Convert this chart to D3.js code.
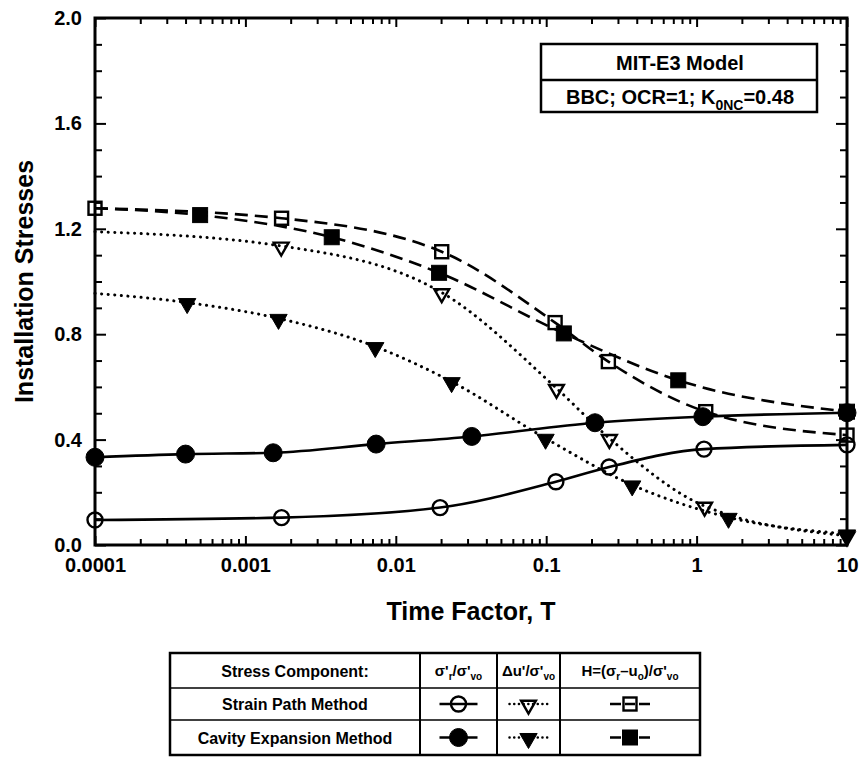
<!DOCTYPE html>
<html>
<head>
<meta charset="utf-8">
<script src="https://cdn.jsdelivr.net/npm/d3@7"></script>
<style>
  body { margin: 0; background: #fff; }
  svg { display: block; font-family: "Liberation Sans", Arial, sans-serif; font-weight: bold; }
</style>
</head>
<body>
<div id="chart"></div>
<script>
// time factor values and stresses
var spCircleT = [0.0001, 0.00174, 0.0197, 0.116, 0.262, 1.12, 10];
var spCircleV = [0.095, 0.104, 0.142, 0.24, 0.296, 0.364, 0.38];

var ceCircleT = [0.0001, 0.0004, 0.00153, 0.0074, 0.032, 0.211, 1.10, 10];
var ceCircleV = [0.333, 0.345, 0.35, 0.383, 0.412, 0.464, 0.487, 0.502];

var spTriT = [0.0001, 0.00173, 0.0202, 0.117, 0.263, 1.13, 10];
var spTriV = [1.189, 1.135, 0.958, 0.595, 0.405, 0.148, 0.035];

var ceTriT = [0.0001, 0.00041, 0.00166, 0.0073, 0.0235, 0.099, 0.373, 1.63, 10];
var ceTriV = [0.955, 0.92, 0.86, 0.753, 0.62, 0.405, 0.228, 0.105, 0.042];

var spSquareT = [0.0001, 0.00174, 0.0202, 0.1146, 0.259, 1.15, 10];
var spSquareV = [1.278, 1.24, 1.113, 0.844, 0.696, 0.506, 0.417];

var ceSquareT = [0.0001, 0.0005, 0.00375, 0.0194, 0.131, 0.755, 10];
var ceSquareV = [1.278, 1.252, 1.168, 1.033, 0.803, 0.625, 0.506];

var xMajor = [0.0001, 0.001, 0.01, 0.1, 1, 10];
var xLabels = ['0.0001', '0.001', '0.01', '0.1', '1', '10'];
var yMajor = [0, 0.4, 0.8, 1.2, 1.6, 2.0];
var yMinor = [0.1, 0.2, 0.3, 0.5, 0.6, 0.7, 0.9, 1.0, 1.1, 1.3, 1.4, 1.5, 1.7, 1.8, 1.9];

var tableRows = ['Strain Path Method', 'Cavity Expansion Method'];

var margin = { left: 95, top: 18 };
var width = 752, height = 527;

var x = d3.scaleLog()
    .domain([0.0001, 10])
    .range([0, width]);

var y = d3.scaleLinear()
    .domain([0, 2])
    .range([height, 0]);

var xMinor = [];
xMajor.slice(0, -1).forEach(function (d) {
    for (var k = 2; k <= 9; k++) xMinor.push(d * k);
});

var root = d3.select('#chart')
    .append('svg')
    .attr('width', 861)
    .attr('height', 760);

var svg = root.append('g')
    .attr('transform', 'translate(' + margin.left + ',' + margin.top + ')');

// axes with inward ticks
function clean(g) { g.select('.domain').remove(); g.selectAll('line').attr('stroke', '#000').attr('stroke-width', 2); }

svg.append('g')
    .attr('transform', 'translate(0,' + height + ')')
    .call(d3.axisBottom(x).tickValues(xMajor).tickSize(-9).tickPadding(13)
        .tickFormat(function (d, i) { return xLabels[i]; }))
    .call(clean)
    .selectAll('text').attr('font-size', 20).attr('fill', '#000');

svg.append('g')
    .attr('transform', 'translate(0,' + height + ')')
    .call(d3.axisBottom(x).tickValues(xMinor).tickSize(-6).tickFormat(''))
    .call(clean);

svg.append('g')
    .call(d3.axisTop(x).tickValues(xMajor).tickSize(-9).tickFormat(''))
    .call(clean);

svg.append('g')
    .call(d3.axisTop(x).tickValues(xMinor).tickSize(-6).tickFormat(''))
    .call(clean);

svg.append('g')
    .call(d3.axisLeft(y).tickValues(yMajor).tickSize(-11).tickPadding(13).tickFormat(d3.format('.1f')))
    .call(clean)
    .selectAll('text').attr('font-size', 20).attr('fill', '#000');

svg.append('g')
    .call(d3.axisLeft(y).tickValues(yMinor).tickSize(-7).tickFormat(''))
    .call(clean);

svg.append('g')
    .attr('transform', 'translate(' + width + ',0)')
    .call(d3.axisRight(y).tickValues(yMajor).tickSize(-11).tickFormat(''))
    .call(clean);

svg.append('g')
    .attr('transform', 'translate(' + width + ',0)')
    .call(d3.axisRight(y).tickValues(yMinor).tickSize(-7).tickFormat(''))
    .call(clean);

// frame
svg.append('rect')
    .attr('width', width)
    .attr('height', height)
    .attr('fill', 'none')
    .attr('stroke', '#000')
    .attr('stroke-width', 3);

// axis titles
svg.append('text')
    .attr('x', width / 2)
    .attr('y', height + 75)
    .attr('text-anchor', 'middle')
    .attr('font-size', 25)
    .text('Time Factor, T');

svg.append('text')
    .attr('transform', 'translate(' + (33 - margin.left) + ',' + (height / 2) + ') rotate(-90)')
    .attr('text-anchor', 'middle')
    .attr('font-size', 25)
    .text('Installation Stresses');

// series
var styles = {
    solid: null,
    dashed: '13 7',
    dotted: '0.1 6.5'
};

var series = [
    { t: spSquareT, v: spSquareV, line: 'dashed', shape: 'square', fill: false, first: true },
    { t: ceSquareT, v: ceSquareV, line: 'dashed', shape: 'square', fill: true, first: false },
    { t: spTriT, v: spTriV, line: 'dotted', shape: 'triangle', fill: false, first: false },
    { t: ceTriT, v: ceTriV, line: 'dotted', shape: 'triangle', fill: true, first: false },
    { t: spCircleT, v: spCircleV, line: 'solid', shape: 'circle', fill: false, first: true },
    { t: ceCircleT, v: ceCircleV, line: 'solid', shape: 'circle', fill: true, first: true }
];

var line = d3.line()
    .x(function (d) { return x(d[0]); })
    .y(function (d) { return y(d[1]); })
    .curve(d3.curveMonotoneX);

function drawLine(g, pts, kind) {
    g.append('path')
        .attr('d', line(pts))
        .attr('fill', 'none')
        .attr('stroke', '#000')
        .attr('stroke-width', kind === 'dotted' ? 3 : 2.6)
        .attr('stroke-linecap', kind === 'dotted' ? 'round' : 'butt')
        .attr('stroke-dasharray', styles[kind]);
}

// open symbols are hollow, the curve shows through them
function drawMarker(g, cx, cy, shape, fill) {
    if (shape === 'circle') {
        g.append('circle')
            .attr('cx', cx).attr('cy', cy)
            .attr('r', fill ? 9 : 7.5)
            .attr('fill', fill ? '#000' : 'none')
            .attr('stroke', '#000')
            .attr('stroke-width', fill ? 1 : 2.4);
    } else if (shape === 'square') {
        var s = fill ? 15 : 13;
        g.append('rect')
            .attr('x', cx - s / 2).attr('y', cy - s / 2)
            .attr('width', s).attr('height', s)
            .attr('fill', fill ? '#000' : 'none')
            .attr('stroke', '#000')
            .attr('stroke-width', fill ? 1 : 2.4);
    } else {
        g.append('path')
            .attr('d', d3.symbol(d3.symbolTriangle, fill ? 130 : 95)())
            .attr('transform', 'translate(' + cx + ',' + (cy + 1) + ') rotate(180)')
            .attr('fill', fill ? '#000' : 'none')
            .attr('stroke', '#000')
            .attr('stroke-width', fill ? 1 : 2.4);
    }
}

series.forEach(function (s) {
    var pts = s.t.map(function (t, i) { return [t, s.v[i]]; });
    drawLine(svg, pts, s.line);
});

series.forEach(function (s) {
    s.t.forEach(function (t, i) {
        if (i === 0 && !s.first) return;
        drawMarker(svg, x(t), y(s.v[i]), s.shape, s.fill);
    });
});

// model box
var box = root.append('g').attr('transform', 'translate(541,44)');
box.append('rect')
    .attr('width', 276).attr('height', 68)
    .attr('fill', '#fff').attr('stroke', '#000').attr('stroke-width', 2.5);
box.append('line')
    .attr('x1', 0).attr('x2', 276).attr('y1', 36).attr('y2', 36)
    .attr('stroke', '#000').attr('stroke-width', 2.5);
box.append('text')
    .attr('x', 139).attr('y', 26)
    .attr('text-anchor', 'middle').attr('font-size', 20)
    .text('MIT-E3 Model');

function richText(sel, parts, size) {
    var subSize = Math.round(size * 0.68);
    var shift = 0;
    parts.forEach(function (p) {
        var dy = (p[1] ? size * 0.3 : 0) - shift;
        shift = p[1] ? size * 0.3 : 0;
        sel.append('tspan')
            .attr('dy', dy)
            .attr('font-size', p[1] ? subSize : size)
            .text(p[0]);
    });
}

richText(box.append('text').attr('x', 139).attr('y', 60).attr('text-anchor', 'middle'),
    [['BBC; OCR=1; K', 0], ['0NC', 1], ['=0.48', 0]], 20);

// bottom legend table
var cols = [170, 420, 497, 560, 700];
var rows = [653, 688, 720, 755];
var tbl = root.append('g');

tbl.append('rect')
    .attr('x', cols[0]).attr('y', rows[0])
    .attr('width', cols[4] - cols[0]).attr('height', rows[3] - rows[0])
    .attr('fill', 'none').attr('stroke', '#000').attr('stroke-width', 2.5);

cols.slice(1, 4).forEach(function (c) {
    tbl.append('line')
        .attr('x1', c).attr('x2', c).attr('y1', rows[0]).attr('y2', rows[3])
        .attr('stroke', '#000').attr('stroke-width', 2);
});
rows.slice(1, 3).forEach(function (r) {
    tbl.append('line')
        .attr('x1', cols[0]).attr('x2', cols[4]).attr('y1', r).attr('y2', r)
        .attr('stroke', '#000').attr('stroke-width', 1.5);
});

function cellX(i) { return (cols[i] + cols[i + 1]) / 2; }
function cellY(j) { return (rows[j] + rows[j + 1]) / 2; }

tbl.append('text')
    .attr('x', cellX(0)).attr('y', cellY(0) + 6)
    .attr('text-anchor', 'middle').attr('font-size', 16)
    .text('Stress Component:');

var headers = [
    [['\u03c3\'', 0], ['r', 1], ['/\u03c3\'', 0], ['vo', 1]],
    [['\u0394u\'/\u03c3\'', 0], ['vo', 1]],
    [['H=(\u03c3', 0], ['r', 1], ['\u2013u', 0], ['o', 1], [')/\u03c3\'', 0], ['vo', 1]]
];
headers.forEach(function (h, i) {
    richText(tbl.append('text').attr('x', cellX(i + 1)).attr('y', cellY(0) + 5).attr('text-anchor', 'middle'), h, 15);
});

tableRows.forEach(function (name, j) {
    tbl.append('text')
        .attr('x', cellX(0)).attr('y', cellY(j + 1) + 6)
        .attr('text-anchor', 'middle').attr('font-size', 16)
        .text(name);
});

// legend symbols
var legendSeries = [
    [series[4], series[2], series[0]],
    [series[5], series[3], series[1]]
];
legendSeries.forEach(function (row, j) {
    row.forEach(function (s, i) {
        var cx = cellX(i + 1), cy = cellY(j + 1);
        var g = tbl.append('g');
        if (s.line === 'solid') {
            g.append('line').attr('x1', cx - 19).attr('x2', cx + 19).attr('y1', cy).attr('y2', cy)
                .attr('stroke', '#000').attr('stroke-width', 2.5);
        } else if (s.line === 'dotted') {
            g.append('line').attr('x1', cx - 19).attr('x2', cx + 19).attr('y1', cy).attr('y2', cy)
                .attr('stroke', '#000').attr('stroke-width', 2.5)
                .attr('stroke-linecap', 'round').attr('stroke-dasharray', '0.1 4.6');
        } else {
            g.append('line').attr('x1', cx - 20).attr('x2', cx + 20).attr('y1', cy).attr('y2', cy)
                .attr('stroke', '#000').attr('stroke-width', 2.5)
                .attr('stroke-dasharray', '11 4 10 4 11');
        }
        drawMarker(g, cx, cy, s.shape, s.fill);
    });
});
</script>
</body>
</html>
